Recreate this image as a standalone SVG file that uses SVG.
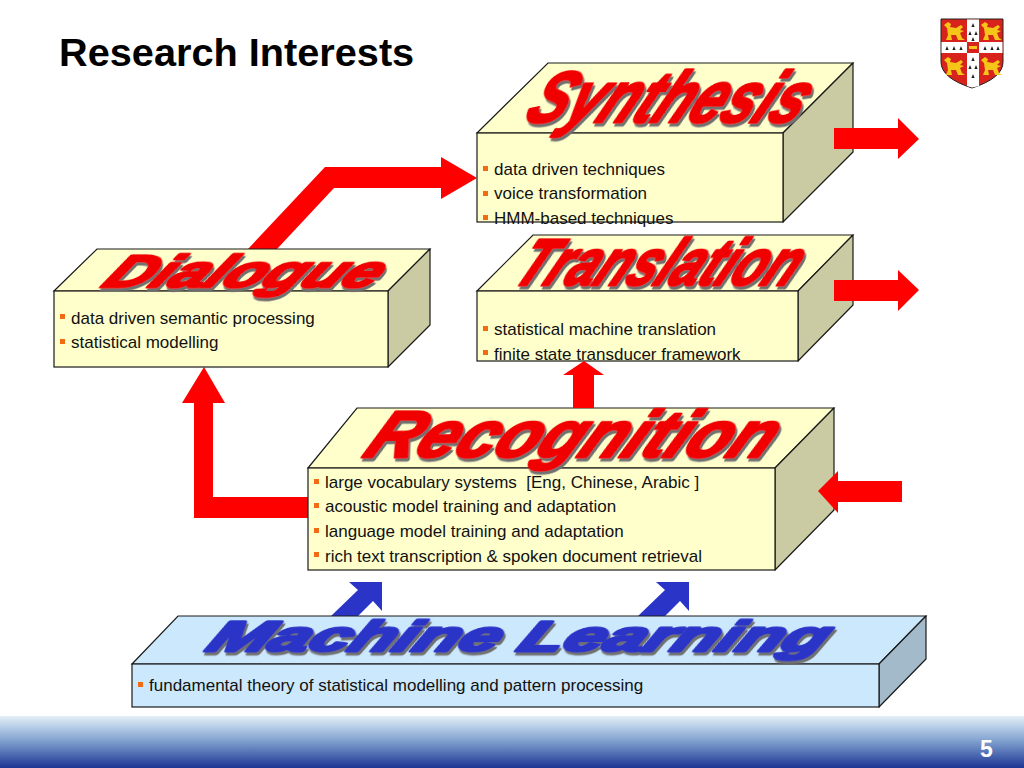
<svg xmlns="http://www.w3.org/2000/svg" width="1024" height="768" viewBox="0 0 1024 768">
<style>
.front{fill:#ffffcc;stroke:#1a1a1a;stroke-width:1.2}
.side{fill:#cbcba3;stroke:#1a1a1a;stroke-width:1.2;stroke-linejoin:round}
.bfront{fill:#cce8fc;stroke:#1a1a1a;stroke-width:1.2}
.bside{fill:#a3bacb;stroke:#1a1a1a;stroke-width:1.2;stroke-linejoin:round}
.red{fill:#ff0000}
.blue{fill:#2a35c8}
.b{font:17px "Liberation Sans",Arial,sans-serif;fill:#111;white-space:pre}
.bul{fill:#f26a12}
.wa{font-family:"Liberation Sans",Arial,sans-serif;font-weight:bold;font-style:italic;fill:#f00000;stroke:#f00000;stroke-width:3;stroke-linejoin:round;filter:url(#ds)}
.wb{fill:#2a35c8;stroke:#2a35c8}
</style>
<defs>
<linearGradient id="foot" x1="0" y1="0" x2="0" y2="1"><stop offset="0" stop-color="#e4eff8"/><stop offset="0.45" stop-color="#86a6d2"/><stop offset="1" stop-color="#1c3593"/></linearGradient>
<filter id="ds" x="-5%" y="-10%" width="110%" height="130%"><feDropShadow dx="3" dy="3" stdDeviation="0.6" flood-color="#6f6f6f"/></filter>
<path id="lion" fill="#f5c518" d="M0,3 L4,0 L7,2 L6,5 L12,6 L17,3 L19,5 L16,8 L20,9 L16,11 L18,16 L21,18 L14,18 L12,13 L7,13 L8,18 L2,18 L4,13 L3,6 Z"/>
<path id="erm" fill="#222" d="M0,0 L1.6,4 L-1.6,4 Z"/>
</defs>
<rect width="1024" height="768" fill="#fff"/>
<rect id="footer" x="0" y="716" width="1024" height="52" fill="url(#foot)"/>
<text x="59" y="66" font-family="'Liberation Sans',Arial,sans-serif" font-weight="bold" font-size="39.700" fill="#000">Research Interests</text>
<text x="980" y="757" font-family="'Liberation Sans',Arial,sans-serif" font-weight="bold" font-size="23" fill="#fff">5</text>

<g id="crest">
<path d="M941,19 H1003 V62 Q1003,78 972,88 Q941,78 941,62 Z" fill="#d8231c" stroke="#222" stroke-width="1"/>
<path d="M967,19.500 H979 V42 H1002.500 V53 H979 V86 L972,87.500 L967,86 V53 H941.500 V42 H967 Z" fill="#fff"/>
<rect x="967" y="42" width="12" height="11" fill="#d8231c"/>
<rect x="969" y="46" width="8" height="3" fill="#f5c518"/>
<use href="#lion" x="944" y="22"/><use href="#lion" x="981" y="22"/><use href="#lion" x="944" y="57"/><use href="#lion" x="981" y="57"/>
<use href="#erm" x="973" y="23"/><use href="#erm" x="970" y="31"/><use href="#erm" x="976" y="31"/><use href="#erm" x="973" y="37"/>
<use href="#erm" x="947" y="46"/><use href="#erm" x="954" y="46"/><use href="#erm" x="961" y="46"/><use href="#erm" x="985" y="46"/><use href="#erm" x="992" y="46"/><use href="#erm" x="998" y="46"/>
<use href="#erm" x="973" y="57"/><use href="#erm" x="970" y="65"/><use href="#erm" x="976" y="65"/><use href="#erm" x="973" y="74"/>
</g>

<g id="connectors-back">
<path class="red" d="M248,249 L325,167 H441 V157 L477,178 L441,199 V188 H334 L277,249 Z"/>
<path class="red" d="M308,497 H213 V403 H225 L204,367 L182,403 H194 V518 H308 Z"/>
<path class="blue" d="M331,616 L358,590 L349,582 H382 V611 L373,601 L358,616 Z"/>
<path class="blue" d="M638,616 L665,590 L656,582 H689 V611 L680,601 L665,616 Z"/>
</g>

<g id="synthesis">
<path class="front" d="M477,133 L548,63 H853 L783,133 Z"/>
<path class="side" d="M783,133 L853,63 V152 L783,222 Z"/>
<rect class="front" x="477" y="133" width="306" height="89"/>
<text class="wa" transform="translate(522,122) skewX(-28)" font-size="72" textLength="275" lengthAdjust="spacingAndGlyphs">Synthesis</text>
<rect class="bul" x="483" y="166" width="5" height="5"/><text class="b" x="494" y="175">data driven techniques</text>
<rect class="bul" x="483" y="191" width="5" height="5"/><text class="b" x="494" y="199">voice transformation</text>
<rect class="bul" x="483" y="215" width="5" height="5"/><text class="b" x="494" y="224">HMM-based techniques</text>
</g>

<g id="translation">
<path class="front" d="M477,291 L533,235 H853 L798,291 Z"/>
<path class="side" d="M798,291 L853,235 V305 L798,361 Z"/>
<rect class="front" x="477" y="291" width="321" height="70"/>
<text class="wa" transform="translate(510,285) skewX(-28)" font-size="66" textLength="280" lengthAdjust="spacingAndGlyphs">Translation</text>
<rect class="bul" x="483" y="326" width="5" height="5"/><text class="b" x="494" y="335">statistical machine translation</text>
<rect class="bul" x="483" y="350" width="5" height="5"/><text class="b" x="494" y="360">finite state transducer framework</text>
</g>

<g id="dialogue">
<path class="front" d="M54,291 L97,249 H430 L388,291 Z"/>
<path class="side" d="M388,291 L430,249 V325 L388,367 Z"/>
<rect class="front" x="54" y="291" width="334" height="76"/>
<text class="wa" transform="translate(100,287) skewX(-35)" font-size="46" textLength="273" lengthAdjust="spacingAndGlyphs">Dialogue</text>
<rect class="bul" x="60" y="314" width="5" height="5"/><text class="b" x="71" y="324">data driven semantic processing</text>
<rect class="bul" x="60" y="339" width="5" height="5"/><text class="b" x="71" y="348">statistical modelling</text>
</g>

<g id="recognition">
<path class="front" d="M308,468 L357,408 H834 L775,468 Z"/>
<path class="side" d="M775,468 L834,408 V510 L775,570 Z"/>
<rect class="front" x="308" y="468" width="467" height="102"/>
<text class="wa" transform="translate(361,457) skewX(-28)" font-size="66" textLength="405" lengthAdjust="spacingAndGlyphs">Recognition</text>
<rect class="bul" x="314" y="479" width="5" height="5"/><text class="b" x="325" y="488">large vocabulary systems  [Eng, Chinese, Arabic ]</text>
<rect class="bul" x="314" y="503" width="5" height="5"/><text class="b" x="325" y="512">acoustic model training and adaptation</text>
<rect class="bul" x="314" y="528" width="5" height="5"/><text class="b" x="325" y="537">language model training and adaptation</text>
<rect class="bul" x="314" y="552" width="5" height="5"/><text class="b" x="325" y="562">rich text transcription &amp; spoken document retrieval</text>
</g>

<g id="machine-learning">
<path class="bfront" d="M132,664 L178,616 H926 L879,664 Z"/>
<path class="bside" d="M879,664 L926,616 V659 L879,707 Z"/>
<rect class="bfront" x="132" y="664" width="747" height="43"/>
<text class="wa wb" transform="translate(204,651) skewX(-28)" font-size="42" textLength="618" lengthAdjust="spacingAndGlyphs">Machine Learning</text>
<rect class="bul" x="138" y="682" width="5" height="5"/><text class="b" x="149" y="691">fundamental theory of statistical modelling and pattern processing</text>
</g>

<g id="connectors-front">
<path class="red" d="M834,128 H898 V118 L919,139 L898,159 V149 H834 Z"/>
<path class="red" d="M834,280 H898 V270 L919,290 L898,311 V301 H834 Z"/>
<path class="red" d="M902,481 H838 V471 L818,491 L838,513 V502 H902 Z"/>
<path class="red" d="M573,408 V375 H563 L584,361 L604,375 H594 V408 Z"/>
</g>
</svg>
